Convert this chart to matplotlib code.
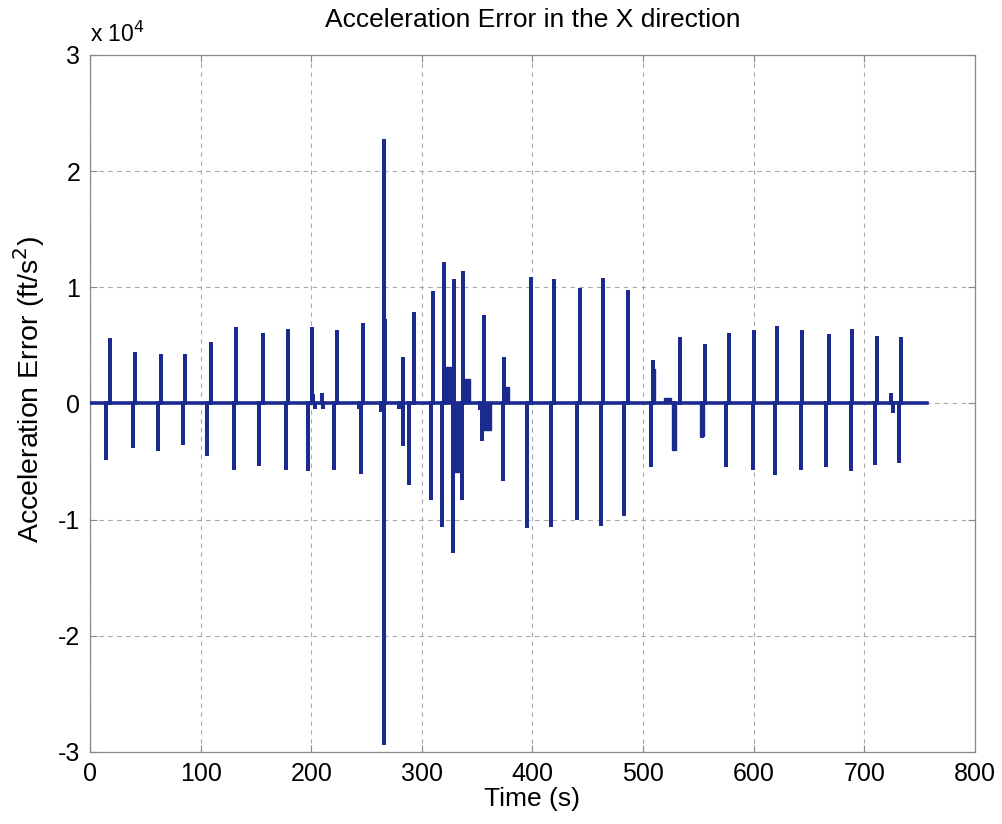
import numpy as np
import matplotlib
matplotlib.use("Agg")
import matplotlib.pyplot as plt

plt.rcParams['font.family'] = ['Liberation Sans', 'DejaVu Sans']
plt.rcParams['axes.unicode_minus'] = False

# --- data (ft/s^2) ---
neg_t = [14.5, 38.7, 61.4, 84.0, 105.8, 130.0, 152.7, 177.0, 197.0, 220.9, 244.8,
         265.4, 282.8, 288.1, 308.1, 317.9, 327.7, 336.6, 354.5, 373.1, 395.3, 416.6,
         440.0, 461.8, 483.0, 507.3, 528.0, 553.6, 574.8, 599.1, 619.0, 643.0, 665.1,
         687.5, 709.6, 731.3]
neg_v = [-4850, -3800, -4100, -3600, -4500, -5700, -5350, -5700, -5800, -5700, -6100,
         -29400, -3700, -7000, -8300, -10600, -12900, -8300, -3200, -6700, -10700, -10600,
         -10000, -10550, -9700, -5500, -4000, -3000, -5500, -5700, -6200, -5700, -5500,
         -5850, -5300, -5100]
pos_t = [18.4, 40.8, 64.4, 85.5, 109.7, 131.8, 156.1, 178.8, 200.6, 223.0, 246.9,
         265.4, 266.9, 282.8, 292.6, 309.9, 319.7, 328.6, 337.5, 356.3, 374.3, 398.3,
         419.4, 443.0, 463.6, 486.4, 508.5, 533.3, 555.7, 577.8, 600.5, 621.1, 643.9,
         668.2, 689.1, 711.1, 732.7]
pos_v = [5600, 4400, 4300, 4300, 5300, 6600, 6100, 6400, 6600, 6300, 6900,
         22800, 7300, 4000, 7900, 9700, 12200, 10700, 11400, 7600, 4000, 10900,
         10700, 9900, 10800, 9800, 3700, 5700, 5100, 6100, 6350, 6700, 6350,
         6000, 6400, 5850, 5700]
bump_t = [201.5, 203.5, 209.5, 211.0, 243.5, 263.5, 279.0, 352.5, 724.3, 725.5]
bump_v = [800, -500, 900, -500, -500, -700, -500, -600, 900, -800]
block_start = [319.7, 327.7, 337.5, 355.5, 374.3, 508.5, 518.5, 526.0, 551.0]
block_end = [328.6, 333.5, 343.8, 362.5, 379.0, 511.0, 525.5, 530.0, 555.0]
block_val = [3100, -5900, 2100, -2300, 1400, 3000, 500, -4000, -2800]
t_end = 757.0

x_ticks = [0, 100, 200, 300, 400, 500, 600, 700, 800]
y_ticks = [-3, -2, -1, 0, 1, 2, 3]
scale = 1e4

color = '#1b2a8f'

# build polyline from the events
ev_t = list(neg_t) + list(pos_t) + list(bump_t)
ev_v = list(neg_v) + list(pos_v) + list(bump_v)
order = np.argsort(ev_t, kind='stable')
lx = [0.0]
ly = [0.0]
for i in order:
    t = ev_t[i]
    v = ev_v[i] / scale
    lx += [t, t, t]
    ly += [0.0, v, 0.0]
lx.append(t_end)
ly.append(0.0)

fig = plt.figure(figsize=(10.03, 8.24), dpi=100)
ax = fig.add_axes([0.0897, 0.0874, 0.8824, 0.8459])

ax.plot(lx, ly, color=color, lw=2.6, solid_joinstyle='miter', zorder=3)
w = np.array(block_end) - np.array(block_start)
ax.bar(block_start, np.array(block_val) / scale, width=w, align='edge',
       color=color, edgecolor=color, lw=1.0, zorder=3)

ax.set_xlim(0, 800)
ax.set_ylim(-3, 3)
ax.set_xticks(x_ticks)
ax.set_yticks(y_ticks)
ax.set_xticklabels([str(v) for v in x_ticks])
ax.set_yticklabels([str(v) for v in y_ticks])
ax.grid(True, color='#a8a8a8', linestyle=(0, (4, 4)), lw=0.8)
for s in ax.spines.values():
    s.set_color('#8a8a8a')
    s.set_linewidth(0.9)
ax.tick_params(direction='in', length=5, color='#8a8a8a', labelsize=18,
               top=True, right=True, pad=7)

ax.set_title('Acceleration Error in the X direction', fontsize=19, pad=20)
ax.set_xlabel('Time (s)', fontsize=19, labelpad=1)
ax.set_ylabel('Acceleration Error (ft/s$^2$)', fontsize=20.5, va='center')
ax.yaxis.set_label_coords(-0.069, 0.52)
ax.text(0.0, 1.012, r'x 10$^4$', transform=ax.transAxes, fontsize=16.5,
        ha='left', va='bottom')

fig.savefig('out.png', dpi=100)
